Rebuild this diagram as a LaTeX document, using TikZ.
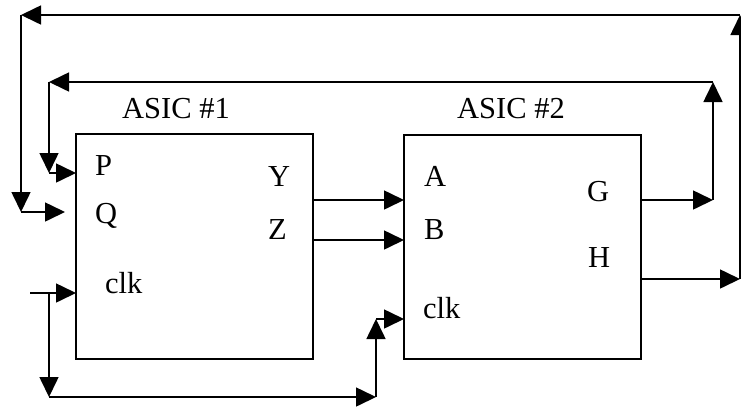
\documentclass[tikz,border=0pt]{standalone}
\usepackage{fontspec}
\setmainfont{Liberation Serif}
\usetikzlibrary{arrows.meta}
\begin{document}
\begin{tikzpicture}[x=1pt,y=-1pt,
  wire/.style={line width=1.6pt},
  arr/.style={wire,-{Triangle[length=20pt,width=19pt]}},
  asic/.style={draw,line width=1.6pt,inner sep=0pt,outer sep=0pt,minimum width=237pt},
  lbl/.style={anchor=base west,inner sep=0pt,font=\fontsize{30.5}{36}\selectfont}]
\useasboundingbox (0,0) rectangle (741,408);
% boxes
\node[asic,minimum height=225pt] (b1) at (194.5,246.5) {};
\node[asic,minimum height=224pt] (b2) at (522.5,247) {};
% titles
\node[lbl] (t1) at (122,118) {ASIC \#1};
\node[lbl] (t2) at (457,118) {ASIC \#2};
% port labels
\node[lbl] (lp) at (95,175) {P};
\node[lbl] (lq) at (95,223) {Q};
\node[lbl] (lc1) at (105,293) {clk};
\node[lbl] (ly) at (268,186) {Y};
\node[lbl] (lz) at (268,239) {Z};
\node[lbl] (la) at (424,186) {A};
\node[lbl] (lb) at (424,239) {B};
\node[lbl] (lc2) at (423,318) {clk};
\node[lbl] (lg) at (587,201) {G};
\node[lbl] (lh) at (588,267) {H};
% row coordinates
\coordinate (rY) at (0,200);
\coordinate (rZ) at (0,240);
\coordinate (rP) at (0,173);
\coordinate (rH) at (0,279);
\coordinate (rC1) at (0,293);
\coordinate (rC2) at (0,319);
% Y, Z -> A, B
\draw[arr] (b1.east |- rY) -- (b2.west |- rY);
\draw[arr] (b1.east |- rZ) -- (b2.west |- rZ);
% G loop back to P
\coordinate (gC) at (713,200);
\coordinate (gT) at (713,82);
\coordinate (pL) at (49,82);
\coordinate (pB) at (49,173);
\draw[arr] (b2.east |- rY) -- (gC);
\draw[arr] (gC) -- (gT);
\draw[arr] (gT) -- (pL);
\draw[arr] (pL) -- (pB);
\draw[arr] (pB) -- (b1.west |- rP);
% H loop back to Q
\coordinate (hC) at (740,279);
\coordinate (hT) at (740,15);
\coordinate (qL) at (21,15);
\coordinate (qB) at (21,212);
\coordinate (qE) at (65,212);
\draw[arr] (b2.east |- rH) -- (hC);
\draw[arr] (hC) -- (hT);
\draw[arr] (hT) -- (qL);
\draw[arr] (qL) -- (qB);
\draw[arr] (qB) -- (qE);
% clock
\coordinate (cS) at (30,293);
\coordinate (cJ) at (49,293);
\coordinate (cD) at (49,397);
\coordinate (cR) at (376,397);
\coordinate (cU) at (376,319);
\draw[arr] (cS) -- (b1.west |- rC1);
\draw[arr] (cJ) -- (cD);
\draw[arr] (cD) -- (cR);
\draw[arr] (cR) -- (cU);
\draw[arr] (cU) -- (b2.west |- rC2);
\end{tikzpicture}
\end{document}
